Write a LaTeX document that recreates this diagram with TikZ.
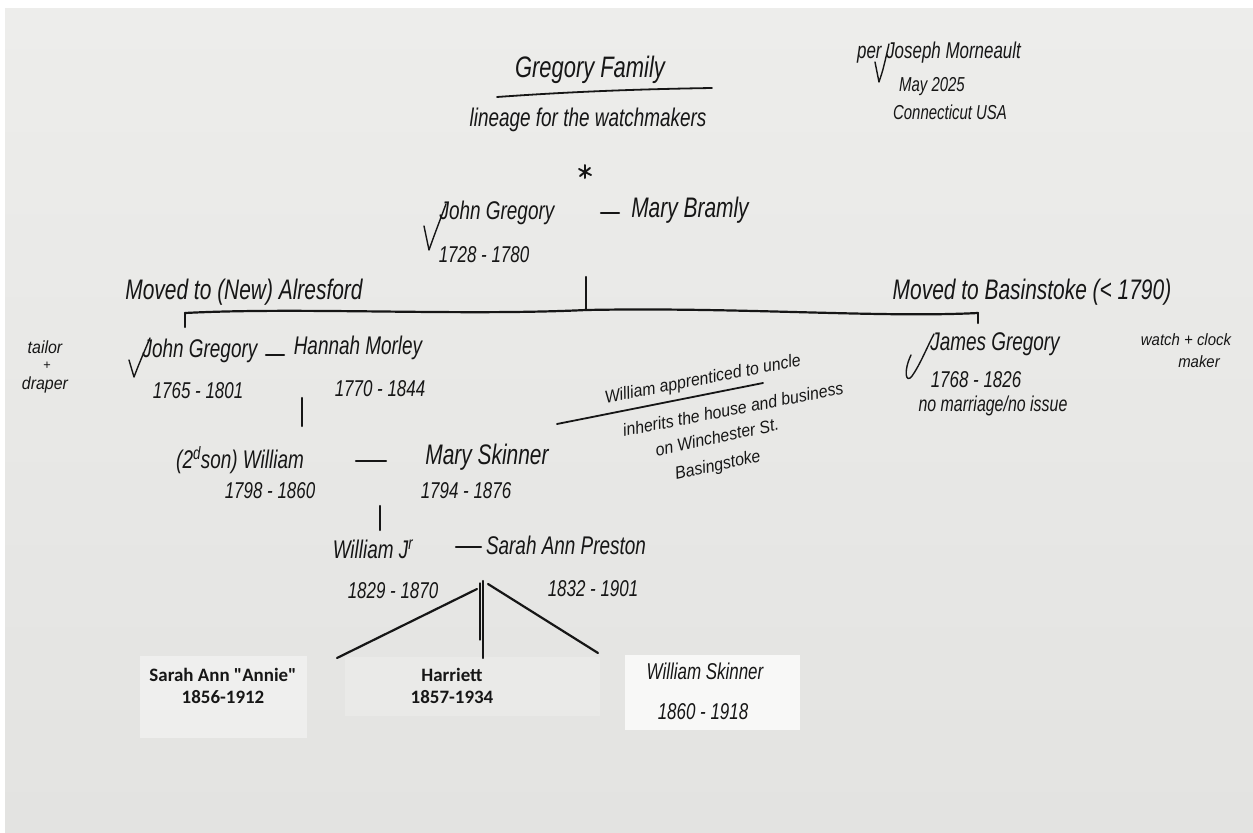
\documentclass[tikz,border=0pt]{standalone}
\usepackage{graphicx}
\usepackage{fontspec}
\usetikzlibrary{calc}
\setmainfont{Liberation Sans}
\newfontfamily\hand{Liberation Sans}
\newfontfamily\calib{Carlito}
\newcommand{\hs}[1]{\scalebox{1}[1.35]{#1}}
\newcommand{\hn}[1]{\scalebox{1}[1.1]{#1}}
\definecolor{ink}{RGB}{22,22,22}
\definecolor{papertop}{RGB}{237,237,235}
\definecolor{paperbot}{RGB}{227,227,225}
\tikzset{
  hw/.style={font=\hand\itshape\fontsize{19}{22}\selectfont, text=ink, inner sep=1bp},
  hwm/.style={font=\hand\itshape\fontsize{17}{20}\selectfont, text=ink, inner sep=1bp},
  hws/.style={font=\hand\itshape\fontsize{15}{17}\selectfont, text=ink, inner sep=0bp},
  pen/.style={draw=ink, line width=2.2bp, line cap=round, line join=round},
  thinpen/.style={draw=ink, line width=1.4bp, line cap=round, line join=round},
  cal/.style={font=\calib\bfseries\fontsize{19}{22}\selectfont, text=ink, align=center, inner sep=1bp},
}
\begin{document}
\begin{tikzpicture}[x=1bp,y=-1bp]
\useasboundingbox (0,0) rectangle (1253,833);
% paper
\fill[white] (0,0) rectangle (1253,833);
\shade[top color=papertop, bottom color=paperbot] (5,8) rectangle (1253,833);

% ---------- header ----------
\node[hw, font=\hand\itshape\fontsize{22}{24}\selectfont] (title) at (590,70) {\hs{Gregory Family}};
\draw[thinpen, line width=1.8bp] (497,97) .. controls (580,91) and (650,89) .. (712,88);
\node[hw] (lineage) at (588,120) {\hs{lineage for the watchmakers}};

\node[hwm] (per) at (939,53) {\hs{per Joseph Morneault}};
\node[hws] (may) at (932,87) {\hs{May 2025}};
\node[hws] (conn) at (950,112) {\hs{Connecticut USA}};
\draw[thinpen] (875,62) -- (879,82) .. controls (883,70) .. (889,44);

% asterisk
\coordinate (star) at (585,172);
\draw[thinpen, line width=2bp] ($(star)+(-6,-3)$) -- ($(star)+(6,3)$);
\draw[thinpen, line width=2bp] ($(star)+(-5,4)$) -- ($(star)+(5,-4)$);
\draw[thinpen, line width=2bp] ($(star)+(0,-7)$) -- ($(star)+(0,6)$);

% ---------- generation 1 ----------
\node[hw] (jg1) at (497,213) {\hs{John Gregory}};
\node[hw, font=\hand\itshape\fontsize{21}{22}\selectfont] (mb1) at (690,210) {\hs{Mary Bramly}};
\coordinate (d1a) at (601,213); \coordinate (d1b) at (619,213);
\draw[pen] (d1a) -- (d1b);
\node[hwm] (jg1d) at (484,255) {\hs{1728 - 1780}};
\draw[thinpen] (424,226) -- (429,250) .. controls (434,236) .. (446,204);

\node[hw, font=\hand\itshape\fontsize{21}{22}\selectfont] (alres) at (244,292) {\hs{Moved to (New) Alresford}};
\node[hw, font=\hand\itshape\fontsize{21}{22}\selectfont] (basing) at (1032,292) {\hs{Moved to Basinstoke (< 1790)}};

% bracket
\coordinate (g1down) at (586,277);
\coordinate (brmid) at (586,310);
\coordinate (brL) at (185,313);
\coordinate (brR) at (978,313);
\coordinate (brLt) at (185,327);
\coordinate (brRt) at (978,323);
\draw[pen] (g1down) -- (brmid);
\draw[pen] (brL) .. controls (300,307) and (460,316) .. (brmid) .. controls (740,307) and (880,318) .. (brR);
\draw[pen] (brL) -- (brLt);
\draw[pen] (brR) -- (brRt);

% ---------- generation 2 ----------
\node[hws, font=\hand\itshape\fontsize{16}{18}\selectfont] (tailor) at (45,347) {\hn{tailor}};
\node[hws, font=\hand\itshape\fontsize{13}{14}\selectfont] (plus) at (47,366) {+};
\node[hws, font=\hand\itshape\fontsize{16}{18}\selectfont] (draper) at (45,385) {\hn{draper}};
\node[hw] (jg2) at (200,351) {\hs{John Gregory}};
\node[hw] (hm2) at (358,348) {\hs{Hannah Morley}};
\coordinate (d2a) at (266,355); \coordinate (d2b) at (284,355);
\draw[pen] (d2a) -- (d2b);
\node[hwm] (jg2d) at (198,391) {\hs{1765 - 1801}};
\node[hwm] (hm2d) at (380,389) {\hs{1770 - 1844}};
\draw[thinpen] (129,360) -- (134,377) .. controls (139,364) .. (150,338);

\coordinate (g2a) at (302,398); \coordinate (g2b) at (302,426);
\draw[pen] (g2a) -- (g2b);

% James
\node[hw] (jamg) at (995,344) {\hs{James Gregory}};
\node[hwm] (jamd) at (976,380) {\hs{1768 - 1826}};
\node[hws, font=\hand\itshape\fontsize{16}{18}\selectfont] (jamn) at (993,406) {\hs{no marriage/no issue}};
\draw[thinpen] (911,355) .. controls (903,372) and (906,384) .. (912,376) .. controls (920,365) and (928,345) .. (934,334);
\node[hws] (watch) at (1186,340) {\hn{watch + clock}};
\node[hws] (maker) at (1199,362) {\hn{maker}};

% note
\node[hwm, font=\hand\itshape\fontsize{16}{18}\selectfont, rotate=11] (note1) at (703,380) {\hn{William apprenticed to uncle}};
\draw[thinpen, line width=1.8bp] (557,424) -- (763,383);
\node[hwm, font=\hand\itshape\fontsize{16}{18}\selectfont, rotate=11] (note2) at (733,409) {\hn{inherits the house and business}};
\node[hwm, font=\hand\itshape\fontsize{16}{18}\selectfont, rotate=12] (note3) at (717,437) {\hn{on Winchester St.}};
\node[hwm, font=\hand\itshape\fontsize{16}{18}\selectfont, rotate=12] (note4) at (718,466) {\hn{Basingstoke}};

% ---------- generation 3 ----------
\node[hw] (w3) at (240,460) {\hs{(2\textsuperscript{d}son) William}};
\node[hw, font=\hand\itshape\fontsize{21}{22}\selectfont] (ms3) at (487,457) {\hs{Mary Skinner}};
\coordinate (d3a) at (356,461); \coordinate (d3b) at (386,461);
\draw[pen] (d3a) -- (d3b);
\node[hwm] (w3d) at (270,491) {\hs{1798 - 1860}};
\node[hwm] (ms3d) at (466,491) {\hs{1794 - 1876}};

\coordinate (g3a) at (380,506); \coordinate (g3b) at (380,530);
\draw[pen] (g3a) -- (g3b);

% ---------- generation 4 ----------
\node[hw] (w4) at (373,549) {\hs{William J\textsuperscript{r}}};
\node[hw] (sp4) at (566,545) {\hs{Sarah Ann Preston}};
\coordinate (d4a) at (456,547); \coordinate (d4b) at (481,547);
\draw[pen] (d4a) -- (d4b);
\node[hwm] (w4d) at (393,591) {\hs{1829 - 1870}};
\node[hwm] (sp4d) at (593,589) {\hs{1832 - 1901}};

% child boxes
\fill[white, opacity=0.4] (140,656) rectangle (307,738);
\fill[white, opacity=0.2] (345,657) rectangle (600,716);
\fill[white, opacity=0.75] (625,655) rectangle (800,730);

\node[cal] (annie) at (223,686) {Sarah Ann "Annie"\\1856-1912};
\node[cal] (harr) at (452,686) {Harriett\\1857-1934};
\node[hwm] (ws) at (705,671) {\hs{William Skinner}};
\node[hwm] (wsd) at (703,712) {\hs{1860 - 1918}};

% children connectors
\coordinate (kid) at (483,581);
\coordinate (kidL) at (477,589);
\coordinate (kidR) at (488,584);
\coordinate (toAnnie) at (337,658);
\coordinate (toHarr) at (483,658);
\coordinate (toWS) at (598,653);
\draw[pen] (kidL) -- (toAnnie);
\draw[pen] (kid) -- (toHarr);
\draw[thinpen, line width=1.3bp] (480,583) -- (480,640);
\draw[pen] (kidR) -- (toWS);
\end{tikzpicture}
\end{document}
